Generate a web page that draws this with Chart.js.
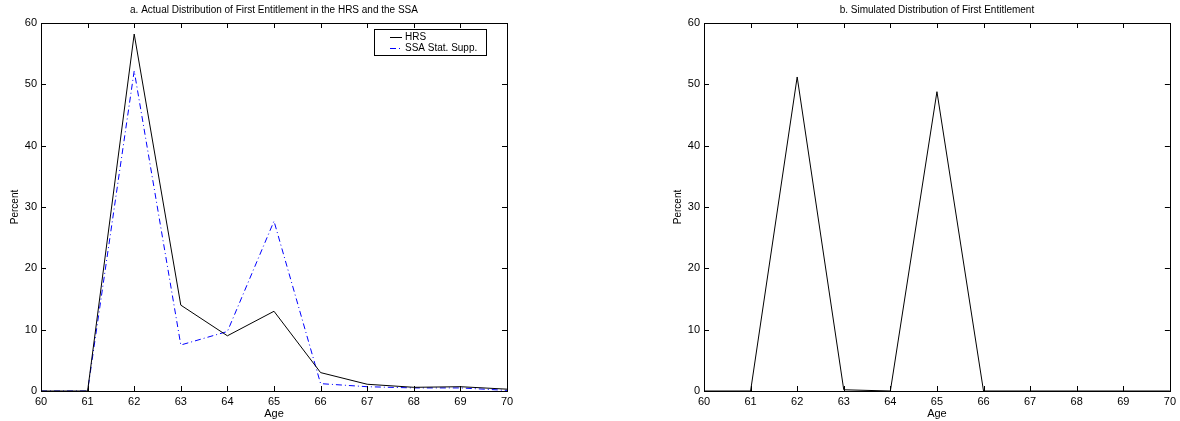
<!DOCTYPE html>
<html>
<head>
<meta charset="utf-8">
<script src="https://cdn.jsdelivr.net/npm/chart.js@4.4.0/dist/chart.umd.min.js"></script>
<style>
  body { margin: 0; background: #fff; }
  #wrap { position: relative; width: 1180px; height: 421px; }
  .panel { position: absolute; top: 0; width: 590px; height: 421px; }
</style>
</head>
<body>
<div id="wrap">
  <div class="panel" style="left:0"><canvas id="left"></canvas></div>
  <div class="panel" style="left:590px"><canvas id="right"></canvas></div>
</div>
<script>
// ages on the x axis
var ages = [60, 61, 62, 63, 64, 65, 66, 67, 68, 69, 70];
// panel a
var hrs = [0, 0, 58.2, 14.0, 9.0, 13.0, 3.0, 1.1, 0.6, 0.7, 0.3];
var ssa = [0, 0, 52.2, 7.5, 9.7, 27.7, 1.2, 0.7, 0.5, 0.5, 0.1];
// panel b
var simulated = [0, 0, 51.2, 0.2, 0, 48.8, 0, 0, 0, 0, 0];

var yTicks = [0, 10, 20, 30, 40, 50, 60];
var xTicks = ages;

var FONT = '"Liberation Sans", Arial, sans-serif';

function pts(vals) {
  return ages.map(function(a, i) { return {x: a, y: vals[i]}; });
}

// box round the axes with ticks pointing inward, title over the axes, legend
var matlabBox = {
  id: 'matlabBox',
  afterDraw: function(chart, args, opts) {
    var c = chart.ctx, a = chart.chartArea;
    var xs = chart.scales.x, ys = chart.scales.y;
    c.save();
    c.strokeStyle = '#000';
    c.lineWidth = 1;
    c.strokeRect(Math.round(a.left) + 0.5, Math.round(a.top) + 0.5,
                 Math.round(a.right - a.left), Math.round(a.bottom - a.top));
    c.beginPath();
    xTicks.forEach(function(t) {
      var px = Math.round(xs.getPixelForValue(t)) + 0.5;
      c.moveTo(px, a.bottom); c.lineTo(px, a.bottom - 5);
      c.moveTo(px, a.top); c.lineTo(px, a.top + 5);
    });
    yTicks.forEach(function(t) {
      var py = Math.round(ys.getPixelForValue(t)) + 0.5;
      c.moveTo(a.left, py); c.lineTo(a.left + 5, py);
      c.moveTo(a.right, py); c.lineTo(a.right - 5, py);
    });
    c.stroke();

    c.fillStyle = '#000';
    c.font = '10px ' + FONT;
    c.textAlign = 'center';
    c.textBaseline = 'middle';
    c.fillText(opts.title, (a.left + a.right) / 2, 10);

    if (opts.legend) {
      var lx = 374, ly = 29, lw = 112, lh = 26;
      c.fillStyle = '#fff';
      c.fillRect(lx, ly, lw, lh);
      c.strokeRect(lx + 0.5, ly + 0.5, lw, lh);
      chart.data.datasets.forEach(function(ds, i) {
        var yy = ly + 8 + i * 11 + 0.5;
        c.beginPath();
        c.strokeStyle = ds.borderColor;
        c.setLineDash(ds.borderDash || []);
        c.moveTo(lx + 16, yy); c.lineTo(lx + 28, yy);
        c.stroke();
        c.setLineDash([]);
        c.fillStyle = '#000';
        c.textAlign = 'left';
        c.fillText(ds.label, lx + 31, yy);
      });
    }
    c.restore();
  }
};

function makeChart(id, datasets, title, legend, padLeft, padRight) {
  return new Chart(document.getElementById(id), {
    type: 'line',
    data: { datasets: datasets },
    plugins: [matlabBox],
    options: {
      responsive: true,
      maintainAspectRatio: false,
      animation: false,
      layout: { padding: { left: padLeft, right: padRight, top: 23, bottom: 0 } },
      elements: { point: { radius: 0 }, line: { tension: 0, borderWidth: 1 } },
      plugins: {
        legend: { display: false },
        tooltip: { enabled: false },
        matlabBox: { title: title, legend: legend }
      },
      scales: {
        x: {
          type: 'linear', min: 60, max: 70,
          afterBuildTicks: function(s) { s.ticks = xTicks.map(function(v) { return {value: v}; }); },
          afterFit: function(s) { s.height = 30; },
          grid: { display: false, drawTicks: false, tickLength: 0 },
          border: { display: false },
          ticks: { color: '#000', padding: 4, font: { family: FONT, size: 11 } },
          title: { display: true, text: 'Age', color: '#000', padding: 0, font: { family: FONT, size: 11 } }
        },
        y: {
          min: 0, max: 60,
          afterBuildTicks: function(s) { s.ticks = yTicks.map(function(v) { return {value: v}; }); },
          afterFit: function(s) { s.width = 41; },
          grid: { display: false, drawTicks: false, tickLength: 0 },
          border: { display: false },
          ticks: { color: '#000', padding: 4, font: { family: FONT, size: 11 } },
          title: { display: true, text: 'Percent', color: '#000', padding: { top: 9, bottom: 0 }, font: { family: FONT, size: 10 } }
        }
      }
    }
  });
}

makeChart('left', [
  { label: 'HRS', data: pts(hrs), borderColor: '#000000' },
  { label: 'SSA Stat. Supp.', data: pts(ssa), borderColor: '#0000ff', borderDash: [6, 3, 1, 3] }
], 'a. Actual Distribution of First Entitlement in the HRS and the SSA', true, 0, 83);

makeChart('right', [
  { label: 'Simulated', data: pts(simulated), borderColor: '#000000' }
], 'b. Simulated Distribution of First Entitlement', false, 73, 8);
</script>
</body>
</html>
